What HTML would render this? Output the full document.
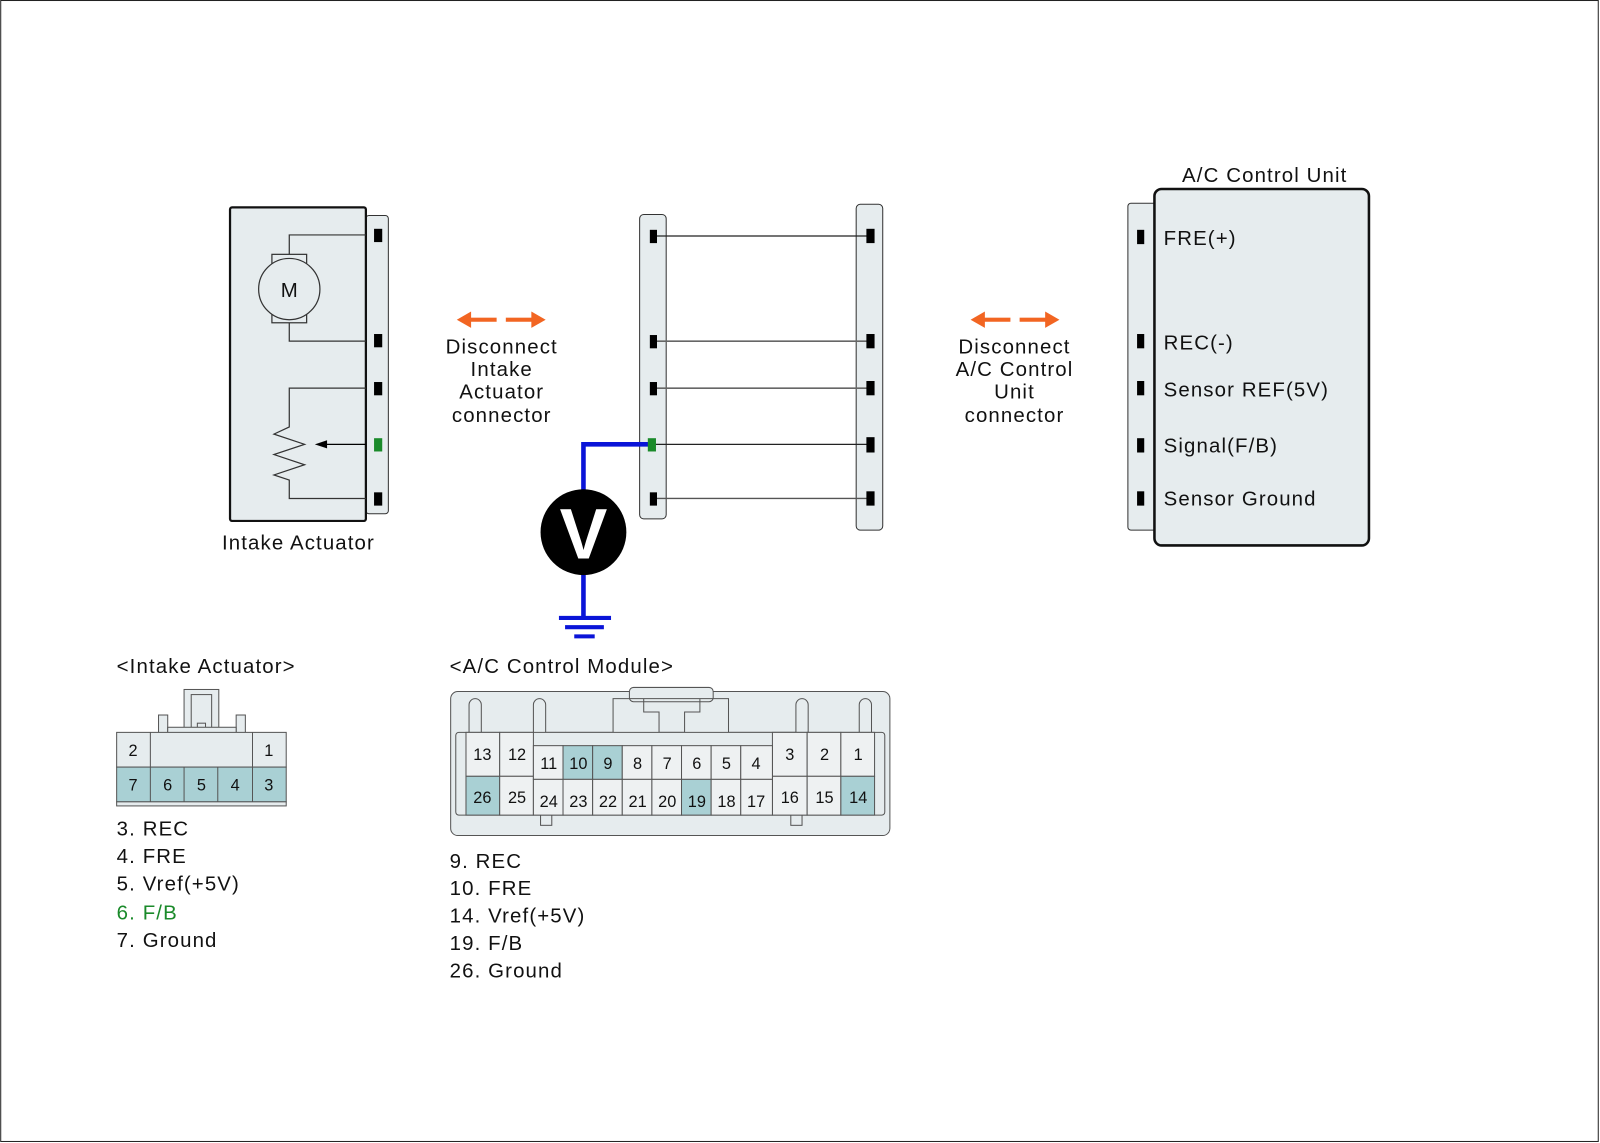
<!DOCTYPE html>
<html><head><meta charset="utf-8"><style>
html,body{margin:0;padding:0;background:#fff}
svg{display:block}
text{font-family:"Liberation Sans",Arial,sans-serif;fill:#111}
.l{font-size:20px;letter-spacing:1.1px}
</style></head><body>
<svg width="1600" height="1143" viewBox="0 0 1566 1119" xmlns="http://www.w3.org/2000/svg">
<rect x="0.5" y="0.5" width="1564" height="1117" fill="#fff" stroke="#222" stroke-width="1"/>

<!-- Intake actuator -->
<rect x="358" y="211" width="22" height="292" rx="3" fill="#e6ecee" stroke="#333" stroke-width="1"/>
<rect x="225" y="203" width="133" height="307" rx="2" fill="#e6ecee" stroke="#111" stroke-width="2.2"/>
<g fill="#000">
<rect x="366" y="224" width="8" height="13"/><rect x="366" y="327" width="8" height="13"/>
<rect x="366" y="374" width="8" height="13"/><rect x="366" y="482" width="8" height="13"/>
</g>
<rect x="366" y="429" width="8" height="13" fill="#1a8a2a"/>
<g fill="none" stroke="#333" stroke-width="1.2">
<polyline points="358,230 283,230 283,249"/>
<polyline points="358,334 283,334 283,316"/>
<rect x="266" y="249" width="34" height="67" fill="#e6ecee"/>
<polyline points="358,380 283,380 283,418 268,425 298,435 268,445 298,455 268,465 283,470 283,488 358,488"/>
<line x1="358" y1="435" x2="318" y2="435" stroke="#000"/>
</g>
<circle cx="283" cy="283" r="30" fill="#e6ecee" stroke="#333" stroke-width="1.2"/>
<text x="283" y="291" font-size="20" text-anchor="middle">M</text>
<polygon points="308,435 320,431 320,439" fill="#000"/>
<text class="l" x="292" y="538" text-anchor="middle">Intake Actuator</text>

<!-- orange arrows -->
<g fill="#f26522" stroke="none">
<rect x="458" y="311" width="28" height="4"/><polygon points="447,313 461,305 461,321"/>
<rect x="495" y="311" width="28" height="4"/><polygon points="534,313 520,305 520,321"/>
<rect x="961" y="311" width="28" height="4"/><polygon points="950,313 964,305 964,321"/>
<rect x="998" y="311" width="28" height="4"/><polygon points="1037,313 1023,305 1023,321"/>
</g>
<g class="l" text-anchor="middle">
<text x="491" y="346">Disconnect</text><text x="491" y="368">Intake</text><text x="491" y="390">Actuator</text><text x="491" y="413">connector</text>
<text x="993" y="346">Disconnect</text><text x="993" y="368">A/C Control</text><text x="993" y="390">Unit</text><text x="993" y="413">connector</text>
</g>

<!-- middle harness -->
<rect x="626" y="210" width="26" height="298" rx="4" fill="#e6ecee" stroke="#333" stroke-width="1"/>
<rect x="838" y="200" width="26" height="319" rx="4" fill="#e6ecee" stroke="#333" stroke-width="1"/>
<g stroke="#222" stroke-width="1.2">
<line x1="640" y1="231" x2="851" y2="231"/><line x1="640" y1="334" x2="851" y2="334" stroke="#666" stroke-width="1.6"/>
<line x1="640" y1="380" x2="851" y2="380" stroke="#666" stroke-width="1.6"/><line x1="640" y1="435" x2="851" y2="435"/>
<line x1="640" y1="488" x2="851" y2="488" stroke="#555" stroke-width="1.4"/>
</g>
<g fill="#000">
<rect x="636" y="225" width="7" height="13"/><rect x="636" y="328" width="7" height="13"/>
<rect x="636" y="374" width="7" height="13"/><rect x="636" y="482" width="7" height="13"/>
<rect x="848" y="224" width="8" height="14"/><rect x="848" y="327" width="8" height="14"/>
<rect x="848" y="373" width="8" height="14"/><rect x="848" y="428" width="8" height="15"/><rect x="848" y="481" width="8" height="14"/>
</g>
<polyline points="636,435 571,435 571,490" fill="none" stroke="#0a14d8" stroke-width="4.5"/>
<line x1="571" y1="555" x2="571" y2="605" stroke="#0a14d8" stroke-width="4.5"/>
<g stroke="#0a14d8" stroke-width="4">
<line x1="547" y1="605" x2="598" y2="605"/><line x1="553" y1="614" x2="591" y2="614"/><line x1="562" y1="623" x2="582" y2="623"/>
</g>
<rect x="634" y="429" width="8" height="13" fill="#1a8a2a"/>
<circle cx="571" cy="521" r="42" fill="#000"/>
<text x="571" y="547" font-size="70" font-weight="bold" text-anchor="middle" style="fill:#fff">V</text>

<!-- A/C control unit -->
<text class="l" x="1238" y="178" text-anchor="middle">A/C Control Unit</text>
<rect x="1104" y="199" width="30" height="320" rx="3" fill="#e6ecee" stroke="#333" stroke-width="1"/>
<rect x="1130" y="185" width="210" height="349" rx="7" fill="#e6ecee" stroke="#111" stroke-width="2.5"/>
<g fill="#000">
<rect x="1113" y="225" width="7" height="14"/><rect x="1113" y="327" width="7" height="14"/>
<rect x="1113" y="373" width="7" height="14"/><rect x="1113" y="429" width="7" height="14"/><rect x="1113" y="481" width="7" height="14"/>
</g>
<g class="l">
<text x="1139" y="240">FRE(+)</text><text x="1139" y="342">REC(-)</text><text x="1139" y="388">Sensor REF(5V)</text>
<text x="1139" y="443">Signal(F/B)</text><text x="1139" y="495">Sensor Ground</text>
</g>

<!-- bottom: intake actuator connector -->
<text class="l" x="114" y="659">&lt;Intake Actuator&gt;</text>
<g stroke="#555" stroke-width="1" fill="#e6ecee">
<rect x="180" y="675" width="34" height="43"/>
<rect x="187" y="680" width="20" height="38" fill="none"/>
<rect x="193" y="708" width="8" height="10"/>
<rect x="155" y="700" width="9" height="18"/><rect x="231" y="700" width="9" height="18"/>
<rect x="164" y="712" width="67" height="6"/>
<rect x="114" y="717" width="166" height="34"/>
<line x1="147" y1="717" x2="147" y2="751"/><line x1="247" y1="717" x2="247" y2="751"/>
<rect x="114" y="751" width="166" height="34" fill="#a9d0d4"/>
<line x1="147" y1="751" x2="147" y2="785"/><line x1="180" y1="751" x2="180" y2="785"/>
<line x1="213" y1="751" x2="213" y2="785"/><line x1="247" y1="751" x2="247" y2="785"/>
<rect x="114" y="785" width="166" height="4"/>
</g>
<g font-size="16" text-anchor="middle">
<text x="130" y="740">2</text><text x="263" y="740">1</text>
<text x="130" y="774">7</text><text x="164" y="774">6</text><text x="197" y="774">5</text><text x="230" y="774">4</text><text x="263" y="774">3</text>
</g>
<g class="l">
<text x="114" y="818">3. REC</text><text x="114" y="845">4. FRE</text><text x="114" y="872">5. Vref(+5V)</text>
<text x="114" y="900" style="fill:#1a8a2a">6. F/B</text><text x="114" y="927">7. Ground</text>
</g>

<!-- bottom: A/C control module connector -->
<text class="l" x="440" y="659">&lt;A/C Control Module&gt;</text>
<g stroke="#555" stroke-width="1" fill="#e6ecee">
<rect x="441" y="677" width="430" height="141" rx="7"/>
<rect x="616" y="673" width="82" height="14" rx="4"/>
<path d="M459 717 V690 a6 6 0 0 1 12 0 V717 M522 717 V690 a6 6 0 0 1 12 0 V717 M779 717 V690 a6 6 0 0 1 12 0 V717 M841 717 V690 a6 6 0 0 1 12 0 V717" fill="none"/>
<path d="M534 717 H600 V684 H713 V717 H779" fill="none"/>
<path d="M630 684 V697 H645 V717 H670 V697 H685 V684" fill="none"/>
<rect x="446" y="717" width="420" height="81" rx="3"/>
<rect x="529" y="798" width="11" height="10"/><rect x="774" y="798" width="11" height="10"/>
</g>
<g stroke="#555" stroke-width="1" fill="#eef1f2">
<rect x="456" y="717" width="33" height="43"/><rect x="489" y="717" width="33" height="43"/>
<rect x="456" y="760" width="33" height="38" fill="#a9d0d4"/><rect x="489" y="760" width="33" height="38"/>
<rect x="756" y="717" width="34" height="43"/><rect x="790" y="717" width="33" height="43"/><rect x="823" y="717" width="33" height="43"/>
<rect x="756" y="760" width="34" height="38"/><rect x="790" y="760" width="33" height="38"/><rect x="823" y="760" width="33" height="38" fill="#a9d0d4"/>
<rect x="522" y="730" width="29" height="33"/><rect x="551" y="730" width="29" height="33" fill="#a9d0d4"/><rect x="580" y="730" width="29" height="33" fill="#a9d0d4"/>
<rect x="609" y="730" width="29" height="33"/><rect x="638" y="730" width="29" height="33"/><rect x="667" y="730" width="29" height="33"/>
<rect x="696" y="730" width="29" height="33"/><rect x="725" y="730" width="31" height="33"/>
<rect x="522" y="763" width="29" height="35"/><rect x="551" y="763" width="29" height="35"/><rect x="580" y="763" width="29" height="35"/>
<rect x="609" y="763" width="29" height="35"/><rect x="638" y="763" width="29" height="35"/><rect x="667" y="763" width="29" height="35" fill="#a9d0d4"/>
<rect x="696" y="763" width="29" height="35"/><rect x="725" y="763" width="31" height="35"/>
</g>
<g font-size="16" text-anchor="middle">
<text x="472" y="744">13</text><text x="506" y="744">12</text><text x="773" y="744">3</text><text x="807" y="744">2</text><text x="840" y="744">1</text>
<text x="472" y="786">26</text><text x="506" y="786">25</text><text x="773" y="786">16</text><text x="807" y="786">15</text><text x="840" y="786">14</text>
<text x="537" y="753">11</text><text x="566" y="753">10</text><text x="595" y="753">9</text><text x="624" y="753">8</text>
<text x="653" y="753">7</text><text x="682" y="753">6</text><text x="711" y="753">5</text><text x="740" y="753">4</text>
<text x="537" y="790">24</text><text x="566" y="790">23</text><text x="595" y="790">22</text><text x="624" y="790">21</text>
<text x="653" y="790">20</text><text x="682" y="790">19</text><text x="711" y="790">18</text><text x="740" y="790">17</text>
</g>
<g class="l">
<text x="440" y="850">9. REC</text><text x="440" y="876">10. FRE</text><text x="440" y="903">14. Vref(+5V)</text>
<text x="440" y="930">19. F/B</text><text x="440" y="957">26. Ground</text>
</g>
</svg>
</body></html>
